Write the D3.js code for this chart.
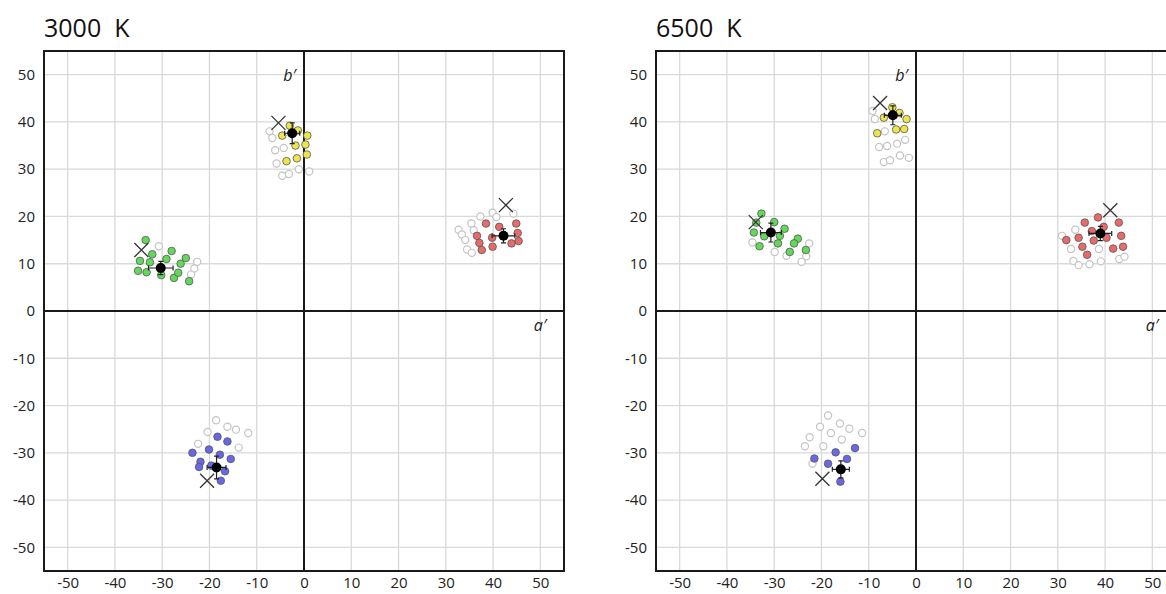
<!DOCTYPE html>
<meta charset="utf-8">
<style>
  body { margin: 0; background: #fff; }
  text { font-family: 'Open Sans', 'DejaVu Sans', sans-serif; }
</style>
<svg width="1166" height="594"></svg>
<script src="https://d3js.org/d3.v7.min.js"></script>
<script>
// panel titles and shared ticks
var titles = ["3000  K", "6500  K"];
var ticks = [-50, -40, -30, -20, -10, 0, 10, 20, 30, 40, 50];
var colors = {red: "#e86b6b", yellow: "#ece64c", green: "#62d95a", blue: "#6868e6"};

// 3000 K – samples (a', b')
var red3000 = [[38.5,18.5],[41.3,17.8],[44.9,18.5],[45.2,16.5],[45.4,14.8],[43.9,14.3],[39.8,15.5],[36.6,15.9],[37.1,14.4],[39.9,13.6],[37.6,12.9]];
var red3000Grey = [[37.3,20.0],[39.9,20.8],[40.7,19.9],[44.3,20.6],[35.4,18.5],[35.9,17.1],[32.7,17.2],[33.4,16.2],[34.1,15.0],[34.5,13.0],[35.5,12.3]];
var yellow3000 = [[-3.0,39.2],[-4.6,37.1],[-1.3,38.2],[0.7,37.1],[-1.8,35.0],[0.3,35.2],[0.6,33.1],[-1.5,32.3],[-3.7,31.7]];
var yellow3000Grey = [[-7.3,38.0],[-6.7,36.6],[-6.1,34.0],[-4.3,34.5],[-5.8,31.2],[-4.6,28.6],[-3.2,29.0],[-1.1,30.0],[1.1,29.5]];
var green3000 = [[-33.5,15.0],[-32.1,12.0],[-34.7,10.6],[-32.6,10.3],[-35.1,8.5],[-33.3,8.2],[-29.1,11.0],[-28.0,12.7],[-30.2,7.6],[-27.5,7.0],[-26.6,8.1],[-26.1,10.0],[-25.0,11.2],[-24.3,6.3]];
var green3000Grey = [[-30.7,13.7],[-22.6,10.4],[-23.2,9.0],[-23.9,7.7]];
var blue3000 = [[-18.3,-26.6],[-16.2,-27.6],[-23.6,-30.0],[-20.1,-29.3],[-17.8,-30.4],[-15.5,-31.3],[-21.9,-31.9],[-22.2,-33.0],[-19.6,-32.7],[-16.7,-33.9],[-17.6,-35.9]];
var blue3000Grey = [[-18.6,-23.1],[-16.2,-24.5],[-14.4,-25.1],[-11.8,-25.8],[-20.4,-25.6],[-22.4,-28.1],[-13.8,-28.9]];
// mean a', mean b', err a', err b'
var mean3000 = [[42.2,15.9,2.4,1.5],[-2.5,37.6,1.6,2.2],[-30.3,9.1,2.6,1.4],[-18.5,-33.1,2.0,2.4]];
var cross3000 = [[42.7,22.4],[-5.4,39.8],[-34.4,12.9],[-20.5,-35.9]];

// 6500 K – samples (a', b')
var red6500 = [[35.7,18.7],[38.5,19.8],[42.9,18.7],[39.7,17.8],[37.2,16.9],[34.4,15.5],[31.8,15.0],[37.6,14.9],[40.3,15.5],[43.4,15.9],[35.2,13.6],[41.7,13.2],[43.8,13.6],[36.2,11.9]];
var red6500Grey = [[30.9,15.9],[33.7,17.2],[32.8,13.1],[38.7,13.1],[33.3,10.6],[34.4,9.7],[36.7,9.9],[39.1,10.5],[43.0,11.0],[44.1,11.5]];
var yellow6500 = [[-5.0,43.1],[-6.8,40.9],[-3.5,41.9],[-2.0,40.6],[-4.2,38.4],[-2.5,38.5],[-8.2,37.6]];
var yellow6500Grey = [[-9.2,42.3],[-8.7,40.6],[-6.6,38.0],[-7.8,34.7],[-6.1,34.9],[-4.0,35.4],[-2.3,36.2],[-6.8,31.5],[-5.5,31.9],[-3.4,32.9],[-1.5,32.4]];
var green6500 = [[-32.7,20.6],[-33.8,18.7],[-30.0,18.8],[-27.8,17.4],[-34.3,16.6],[-32.1,15.8],[-28.8,15.9],[-33.1,13.7],[-29.2,14.3],[-25.0,15.3],[-25.8,14.3],[-26.7,12.5],[-23.3,12.9]];
var green6500Grey = [[-34.6,14.5],[-29.9,12.5],[-27.4,11.7],[-22.6,14.3],[-23.2,11.6],[-24.2,10.4]];
var blue6500 = [[-21.5,-31.2],[-18.6,-32.3],[-17.0,-29.9],[-14.6,-31.3],[-12.9,-29.0],[-16.0,-36.1]];
var blue6500Grey = [[-18.6,-22.1],[-20.3,-24.5],[-16.1,-23.8],[-14.1,-24.9],[-11.4,-25.8],[-18.0,-25.8],[-22.5,-26.7],[-15.7,-27.2],[-23.5,-28.6],[-19.6,-28.6],[-21.9,-32.3]];
var mean6500 = [[39.0,16.4,2.4,1.5],[-4.9,41.4,1.8,2.0],[-30.7,16.6,2.2,2.0],[-15.9,-33.5,1.8,1.8]];
var cross6500 = [[41.1,21.3],[-7.6,44.0],[-33.9,18.8],[-19.8,-35.5]];

var panels = [
  {title: titles[0], left: 44, filled: [red3000, yellow3000, green3000, blue3000],
   grey: [red3000Grey, yellow3000Grey, green3000Grey, blue3000Grey], mean: mean3000, cross: cross3000},
  {title: titles[1], left: 656, filled: [red6500, yellow6500, green6500, blue6500],
   grey: [red6500Grey, yellow6500Grey, green6500Grey, blue6500Grey], mean: mean6500, cross: cross6500}
];
var hues = ["red", "yellow", "green", "blue"];

var svg = d3.select("svg"),
    size = 520, top0 = 51;

var x = d3.scaleLinear().domain([-55, 55]).range([0, size]);
var y = d3.scaleLinear().domain([-55, 55]).range([size, 0]);
var fmt = function(d) { return String(d); };

panels.forEach(function(p) {
  var g = svg.append("g").attr("transform", "translate(" + p.left + "," + top0 + ")");

  g.append("text")
      .attr("x", 0).attr("y", -14)
      .style("font-size", "25px").attr("fill", "#111")
      .attr("xml:space", "preserve")
      .text(p.title);

  // grid
  g.selectAll(".gx").data(ticks.filter(function(t) { return t; })).enter().append("line")
      .attr("x1", x).attr("x2", x).attr("y1", 0).attr("y2", size)
      .attr("stroke", "#d9d9d9").attr("stroke-width", 1.3);
  g.selectAll(".gy").data(ticks.filter(function(t) { return t; })).enter().append("line")
      .attr("y1", y).attr("y2", y).attr("x1", 0).attr("x2", size)
      .attr("stroke", "#d9d9d9").attr("stroke-width", 1.3);

  // axes through zero
  g.append("line").attr("x1", x(0)).attr("x2", x(0)).attr("y1", 0).attr("y2", size)
      .attr("stroke", "#1a1a1a").attr("stroke-width", 2);
  g.append("line").attr("y1", y(0)).attr("y2", y(0)).attr("x1", 0).attr("x2", size)
      .attr("stroke", "#1a1a1a").attr("stroke-width", 2);

  g.append("rect").attr("width", size).attr("height", size)
      .attr("fill", "none").attr("stroke", "#1a1a1a").attr("stroke-width", 2);

  // tick labels
  var ax = g.append("g").attr("transform", "translate(0," + size + ")")
      .call(d3.axisBottom(x).tickValues(ticks).tickFormat(fmt).tickSize(0).tickPadding(6));
  var ay = g.append("g")
      .call(d3.axisLeft(y).tickValues(ticks).tickFormat(fmt).tickSize(0).tickPadding(9));
  [ax, ay].forEach(function(a) {
    a.select(".domain").remove();
    a.selectAll("text").style("font-size", "15px").attr("fill", "#222")
        .style("font-family", "'Open Sans', 'DejaVu Sans', sans-serif");
  });

  g.append("text").attr("x", x(0) - 8).attr("y", y(50) + 6)
      .attr("text-anchor", "end").style("font-size", "16px").style("font-style", "italic")
      .attr("fill", "#222").text("b\u2032");
  g.append("text").attr("x", x(50) + 6).attr("y", y(0) + 20)
      .attr("text-anchor", "end").style("font-size", "16px").style("font-style", "italic")
      .attr("fill", "#222").text("a\u2032");

  // samples
  p.grey.forEach(function(set) {
    g.selectAll(null).data(set).enter().append("circle")
        .attr("cx", function(d) { return x(d[0]); })
        .attr("cy", function(d) { return y(d[1]); })
        .attr("r", 3.6).attr("fill", "#fff")
        .attr("stroke", "#c4c4c4").attr("stroke-width", 1.2);
  });
  p.filled.forEach(function(set, i) {
    g.selectAll(null).data(set).enter().append("circle")
        .attr("cx", function(d) { return x(d[0]); })
        .attr("cy", function(d) { return y(d[1]); })
        .attr("r", 3.8).attr("fill", colors[hues[i]])
        .attr("stroke", "#555").attr("stroke-width", 0.8);
  });

  // X markers
  p.cross.forEach(function(d) {
    var cx = x(d[0]), cy = y(d[1]), s = 7;
    g.append("path")
        .attr("d", "M" + (cx - s) + "," + (cy - s) + "L" + (cx + s) + "," + (cy + s) +
                   "M" + (cx - s) + "," + (cy + s) + "L" + (cx + s) + "," + (cy - s))
        .attr("stroke", "#333").attr("stroke-width", 1.3).attr("fill", "none");
  });

  // means with error bars
  p.mean.forEach(function(d) {
    var cx = x(d[0]), cy = y(d[1]),
        x0 = x(d[0] - d[2]), x1 = x(d[0] + d[2]),
        y0 = y(d[1] - d[3]), y1 = y(d[1] + d[3]), c = 2.5;
    g.append("path")
        .attr("d", "M" + x0 + "," + cy + "H" + x1 +
                   "M" + x0 + "," + (cy - c) + "V" + (cy + c) +
                   "M" + x1 + "," + (cy - c) + "V" + (cy + c) +
                   "M" + cx + "," + y0 + "V" + y1 +
                   "M" + (cx - c) + "," + y0 + "H" + (cx + c) +
                   "M" + (cx - c) + "," + y1 + "H" + (cx + c))
        .attr("stroke", "#222").attr("stroke-width", 1.2).attr("fill", "none");
    g.append("circle").attr("cx", cx).attr("cy", cy).attr("r", 5).attr("fill", "#000");
  });
});
</script>
